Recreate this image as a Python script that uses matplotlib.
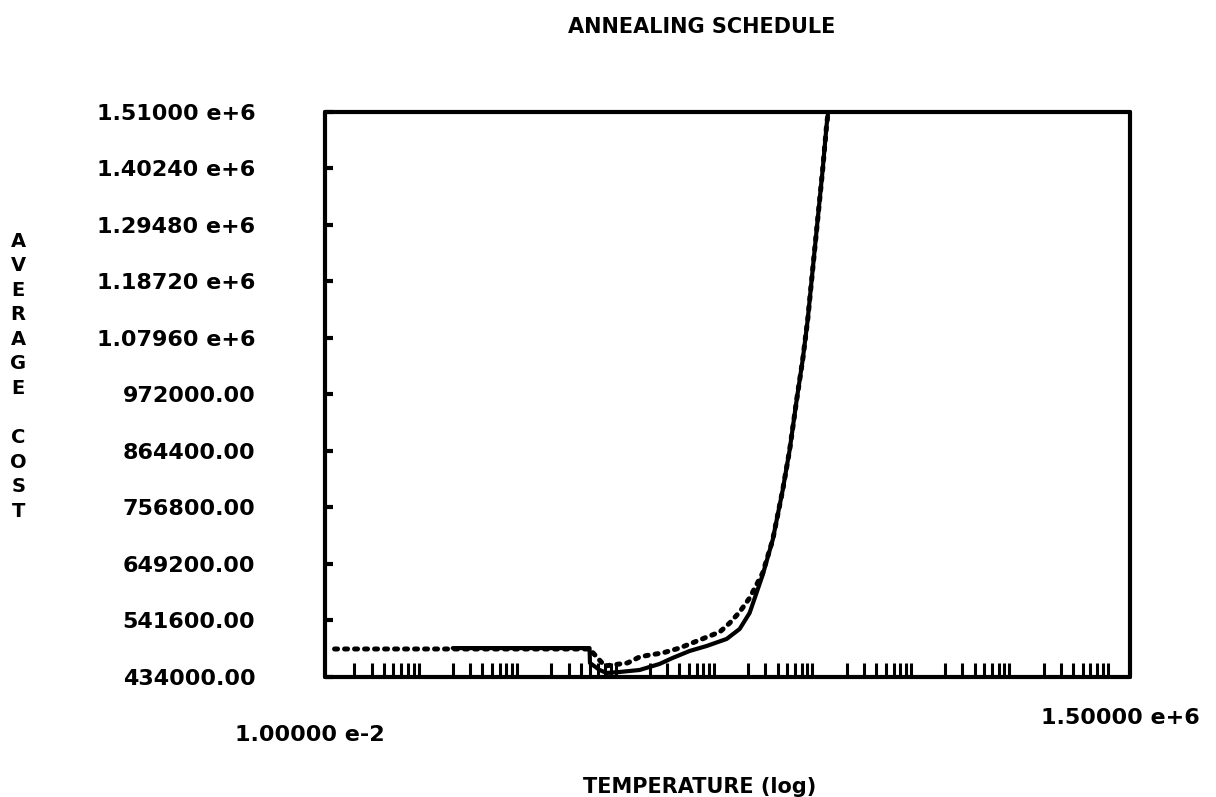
import numpy as np
import matplotlib
matplotlib.use('Agg')
import matplotlib.pyplot as plt
import matplotlib.ticker as mticker
import matplotlib.transforms as mtransforms

# annealing schedule data
temp_solid = [0.2, 4.9, 4.95, 6.2, 7.3, 9.9, 15.8, 25.2, 34.2, 50.9, 75.8, 121, 164, 207,
              281, 355, 449, 528, 622, 716, 805, 904, 1016, 1142, 1254, 1345]
cost_solid = [489000, 489000, 460700, 447300, 441600, 443500, 447300, 458800, 470200,
              483500, 493000, 506400, 525400, 555900, 628200, 694900, 790100, 866300,
              961500, 1037700, 1113900, 1209100, 1304300, 1399500, 1485200, 1532800]

temp_dot = [0.0126, 4.9, 7.0, 11.9, 15.8, 20.0, 27.1, 40.4, 64.4, 103, 130, 164, 207,
            281, 355, 449, 528, 622, 716, 805, 904, 1016, 1142, 1254, 1345]
cost_dot = [487300, 487300, 454900, 460700, 472100, 475900, 479700, 489200, 504500,
            519700, 536800, 557800, 584400, 632000, 694900, 790100, 866300, 961500,
            1037700, 1113900, 1209100, 1304300, 1399500, 1485200, 1532800]

# axis ticks / labels
y_ticks = [434000, 541600, 649200, 756800, 864400, 972000,
           1079600, 1187200, 1294800, 1402400, 1510000]
y_tick_labels = ['434000.00', '541600.00', '649200.00', '756800.00', '864400.00',
                 '972000.00', '1.07960 e+6', '1.18720 e+6', '1.29480 e+6',
                 '1.40240 e+6', '1.51000 e+6']
x_min, x_max = 1.0e-2, 1.5e6
x_min_label = '1.00000 e-2'
x_max_label = '1.50000 e+6'

plt.rcParams['font.family'] = ['DejaVu Sans']
plt.rcParams['font.weight'] = 'bold'

fig = plt.figure(figsize=(12.16, 7.97), dpi=100)
ax = fig.add_axes([0.267, 0.1506, 0.662, 0.709])

ax.plot(temp_solid, cost_solid, color='black', linewidth=3.0,
        solid_capstyle='round', solid_joinstyle='round')
ax.plot(temp_dot, cost_dot, color='black', linewidth=3.6,
        linestyle=(0, (0.6, 1.4)), dash_capstyle='round')

ax.set_xscale('log')
ax.set_xlim(x_min, x_max)
ax.set_ylim(y_ticks[0], y_ticks[-1])

for sp in ax.spines.values():
    sp.set_linewidth(3.0)
    sp.set_capstyle('round')

# y ticks with labels
ax.set_yticks(y_ticks)
ax.set_yticklabels(y_tick_labels, fontsize=16, fontweight='bold')
ax.tick_params(axis='y', direction='in', length=6, width=3, pad=50)

# log minor ticks only on x
ax.xaxis.set_major_locator(mticker.LogLocator(base=10, numticks=20))
ax.xaxis.set_minor_locator(mticker.LogLocator(base=10, subs=np.arange(2, 10), numticks=20))
ax.xaxis.set_major_formatter(mticker.NullFormatter())
ax.xaxis.set_minor_formatter(mticker.NullFormatter())
ax.tick_params(axis='x', which='major', length=0)
ax.tick_params(axis='x', which='minor', direction='in', length=10, width=2.2)

# x range labels
trans = mtransforms.blended_transform_factory(ax.transData, ax.transAxes)
ax.text(x_min * 0.7, -0.103, x_min_label, transform=trans, ha='center', va='center',
        fontsize=16, fontweight='bold')
ax.text(x_max * 0.8, -0.073, x_max_label, transform=trans, ha='center', va='center',
        fontsize=16, fontweight='bold')

fig.text(0.577, 0.966, 'ANNEALING SCHEDULE', ha='center', va='center',
         fontsize=15, fontweight='bold')
fig.text(0.575, 0.013, 'TEMPERATURE (log)', ha='center', va='center',
         fontsize=15, fontweight='bold')
fig.text(0.015, 0.528, '\n'.join('AVERAGE COST'), ha='center', va='center',
         fontsize=14, fontweight='bold', linespacing=1.37)

fig.savefig('out.png', dpi=100)
